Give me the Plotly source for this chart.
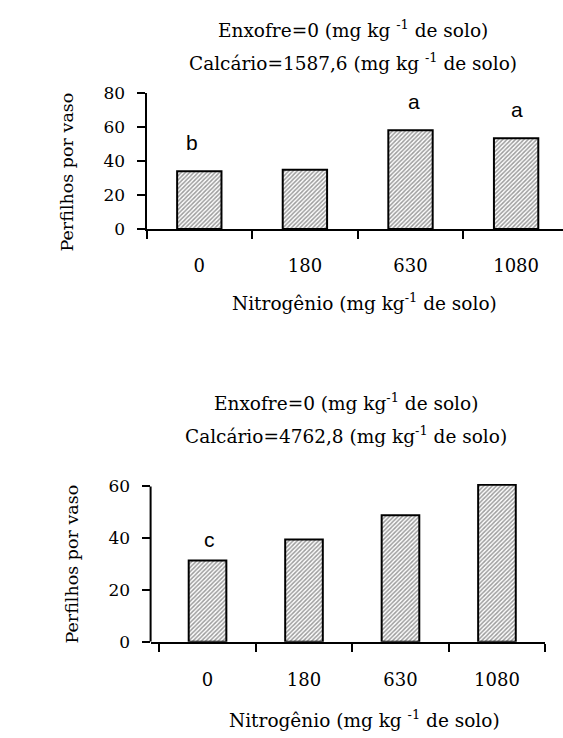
import plotly.graph_objects as go

categories = ["0", "180", "630", "1080"]
top_values = [33.8, 34.8, 57.9, 53.3]
top_letters = ["b", "", "a", "a"]
bottom_values = [31.4, 39.5, 48.9, 60.7]
bottom_letters = ["c", "", "", ""]
top_yticks = [0, 20, 40, 60, 80]
bottom_yticks = [0, 20, 40, 60]

W, H = 563, 738
SERIF = "DejaVu Serif"
SANS = "Liberation Sans"

def py(px):
    return 1 - px / H

def pxx(px):
    return px / W

fig = go.Figure()

pattern = dict(shape="/", size=3, solidity=0.5, fgcolor="#3a3a3a", bgcolor="#ffffff")

for vals, xa, ya, w in [(top_values, "x", "y", 0.42), (bottom_values, "x2", "y2", 0.39)]:
    fig.add_trace(go.Bar(x=categories, y=vals, xaxis=xa, yaxis=ya, width=w,
                         marker=dict(color="white", pattern=pattern,
                                     line=dict(color="black", width=2)),
                         showlegend=False, hoverinfo="skip"))

# significance letters above bars (x given as category index)
for vals, letters, xa, ya, shift, xs in [
        (top_values, top_letters, "x", "y", 29, [-7, 0, 3, 1]),
        (bottom_values, bottom_letters, "x2", "y2", 21, [2, 0, 0, 0])]:
    for i, (v, t) in enumerate(zip(vals, letters)):
        if t:
            fig.add_annotation(x=i, y=v, xref=xa, yref=ya, text=t, showarrow=False,
                               yshift=shift, xshift=xs[i], yanchor="middle",
                               font=dict(family=SANS, size=21, color="black"))

tickfont = dict(family=SERIF, size=18, color="black")
common_x = dict(type="category", showline=True, linecolor="black", linewidth=2,
                ticks="outside", tickson="boundaries", ticklen=8, tickwidth=2,
                tickcolor="black", showgrid=False, zeroline=False, tickfont=tickfont,
                fixedrange=True)
common_y = dict(showline=True, linecolor="black", linewidth=2, ticks="outside",
                ticklen=8, tickwidth=2, tickcolor="black", showgrid=False,
                zeroline=False, tickfont=dict(family=SERIF, size=17, color="black"),
                ticklabelstandoff=8, fixedrange=True)

fig.update_layout(
    width=W, height=H,
    margin=dict(l=0, r=0, t=0, b=0),
    paper_bgcolor="white", plot_bgcolor="white",
    xaxis=dict(common_x, domain=[pxx(146.5), 1.0], range=[-0.5, 3.444],
               anchor="y", ticklabelstandoff=19),
    yaxis=dict(common_y, domain=[py(225), py(85)], range=[0, 80],
               tickvals=top_yticks, anchor="x"),
    xaxis2=dict(common_x, domain=[pxx(150.6), pxx(545.2)], range=[-0.59, 3.5],
                anchor="y2", ticklabelstandoff=21),
    yaxis2=dict(common_y, domain=[py(649.3), py(487.1)], range=[0, 61],
                tickvals=bottom_yticks, anchor="x2", showline=False),
)

# y-axis line of lower chart stops at the 60 tick
fig.add_shape(type="line", xref="x2 domain", yref="y2", x0=0, x1=0,
              y0=0, y1=bottom_yticks[-1], line=dict(color="black", width=2))

def ann(text, x, y, size=18.5, angle=0, family=SERIF):
    fig.add_annotation(text=text, x=pxx(x), y=py(y), xref="paper", yref="paper",
                       showarrow=False, textangle=angle, xanchor="center",
                       yanchor="middle",
                       font=dict(family=family, size=size, color="black"))

ann("Enxofre=0 (mg kg <sup>-1</sup> de solo)", 353, 20)
ann("Calcário=1587,6 (mg kg <sup>-1</sup> de solo)", 353, 53)
ann("Nitrogênio (mg kg<sup>-1</sup> de solo)", 364.5, 300)
ann("Perfilhos por vaso", 67, 167, size=17.5, angle=-90)

ann("Enxofre=0 (mg kg<sup>-1</sup> de solo)", 346, 403)
ann("Calcário=4762,8 (mg kg<sup>-1</sup> de solo)", 346, 437)
ann("Nitrogênio (mg kg <sup>-1</sup> de solo)", 364.5, 729)
ann("Perfilhos por vaso", 72, 570, size=17.5, angle=-90)

fig.write_html("out.html")
